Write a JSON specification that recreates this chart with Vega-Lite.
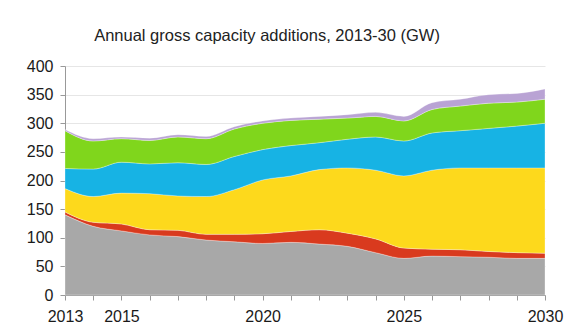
{
  "$schema": "https://vega.github.io/schema/vega-lite/v6.json",
  "width": 480,
  "height": 229,
  "autosize": {"type": "none"},
  "padding": {"left": 65, "top": 66, "right": 22, "bottom": 39},
  "background": "white",
  "title": {"text": "Annual gross capacity additions, 2013-30 (GW)", "font": "Liberation Sans", "fontSize": 16.5, "fontWeight": "normal", "color": "#222222", "offset": 14, "anchor": "middle", "dx": -38},
  "config": {"view": {"stroke": null}},
  "datasets": {
    "cap": [
      {"year": 2013, "series": "Fossil", "order": 1, "gw": 140}, {"year": 2013, "series": "Nuclear", "order": 2, "gw": 5}, {"year": 2013, "series": "Solar", "order": 3, "gw": 41}, {"year": 2013, "series": "Wind", "order": 4, "gw": 35}, {"year": 2013, "series": "Hydro", "order": 5, "gw": 66}, {"year": 2013, "series": "Other", "order": 6, "gw": 2},
      {"year": 2014, "series": "Fossil", "order": 1, "gw": 120}, {"year": 2014, "series": "Nuclear", "order": 2, "gw": 7}, {"year": 2014, "series": "Solar", "order": 3, "gw": 45}, {"year": 2014, "series": "Wind", "order": 4, "gw": 48}, {"year": 2014, "series": "Hydro", "order": 5, "gw": 49}, {"year": 2014, "series": "Other", "order": 6, "gw": 4},
      {"year": 2015, "series": "Fossil", "order": 1, "gw": 112}, {"year": 2015, "series": "Nuclear", "order": 2, "gw": 12}, {"year": 2015, "series": "Solar", "order": 3, "gw": 54}, {"year": 2015, "series": "Wind", "order": 4, "gw": 54}, {"year": 2015, "series": "Hydro", "order": 5, "gw": 41}, {"year": 2015, "series": "Other", "order": 6, "gw": 3},
      {"year": 2016, "series": "Fossil", "order": 1, "gw": 105}, {"year": 2016, "series": "Nuclear", "order": 2, "gw": 9}, {"year": 2016, "series": "Solar", "order": 3, "gw": 63}, {"year": 2016, "series": "Wind", "order": 4, "gw": 52}, {"year": 2016, "series": "Hydro", "order": 5, "gw": 41}, {"year": 2016, "series": "Other", "order": 6, "gw": 4},
      {"year": 2017, "series": "Fossil", "order": 1, "gw": 102}, {"year": 2017, "series": "Nuclear", "order": 2, "gw": 11}, {"year": 2017, "series": "Solar", "order": 3, "gw": 60}, {"year": 2017, "series": "Wind", "order": 4, "gw": 58}, {"year": 2017, "series": "Hydro", "order": 5, "gw": 45}, {"year": 2017, "series": "Other", "order": 6, "gw": 4},
      {"year": 2018, "series": "Fossil", "order": 1, "gw": 96}, {"year": 2018, "series": "Nuclear", "order": 2, "gw": 10}, {"year": 2018, "series": "Solar", "order": 3, "gw": 66}, {"year": 2018, "series": "Wind", "order": 4, "gw": 56}, {"year": 2018, "series": "Hydro", "order": 5, "gw": 45}, {"year": 2018, "series": "Other", "order": 6, "gw": 4},
      {"year": 2019, "series": "Fossil", "order": 1, "gw": 93}, {"year": 2019, "series": "Nuclear", "order": 2, "gw": 13}, {"year": 2019, "series": "Solar", "order": 3, "gw": 78}, {"year": 2019, "series": "Wind", "order": 4, "gw": 58}, {"year": 2019, "series": "Hydro", "order": 5, "gw": 48}, {"year": 2019, "series": "Other", "order": 6, "gw": 4},
      {"year": 2020, "series": "Fossil", "order": 1, "gw": 90}, {"year": 2020, "series": "Nuclear", "order": 2, "gw": 17}, {"year": 2020, "series": "Solar", "order": 3, "gw": 94}, {"year": 2020, "series": "Wind", "order": 4, "gw": 53}, {"year": 2020, "series": "Hydro", "order": 5, "gw": 46}, {"year": 2020, "series": "Other", "order": 6, "gw": 4},
      {"year": 2021, "series": "Fossil", "order": 1, "gw": 92}, {"year": 2021, "series": "Nuclear", "order": 2, "gw": 19}, {"year": 2021, "series": "Solar", "order": 3, "gw": 97}, {"year": 2021, "series": "Wind", "order": 4, "gw": 53}, {"year": 2021, "series": "Hydro", "order": 5, "gw": 44}, {"year": 2021, "series": "Other", "order": 6, "gw": 4},
      {"year": 2022, "series": "Fossil", "order": 1, "gw": 89}, {"year": 2022, "series": "Nuclear", "order": 2, "gw": 25}, {"year": 2022, "series": "Solar", "order": 3, "gw": 105}, {"year": 2022, "series": "Wind", "order": 4, "gw": 47}, {"year": 2022, "series": "Hydro", "order": 5, "gw": 41}, {"year": 2022, "series": "Other", "order": 6, "gw": 5},
      {"year": 2023, "series": "Fossil", "order": 1, "gw": 85}, {"year": 2023, "series": "Nuclear", "order": 2, "gw": 23}, {"year": 2023, "series": "Solar", "order": 3, "gw": 114}, {"year": 2023, "series": "Wind", "order": 4, "gw": 50}, {"year": 2023, "series": "Hydro", "order": 5, "gw": 37}, {"year": 2023, "series": "Other", "order": 6, "gw": 6},
      {"year": 2024, "series": "Fossil", "order": 1, "gw": 74}, {"year": 2024, "series": "Nuclear", "order": 2, "gw": 24}, {"year": 2024, "series": "Solar", "order": 3, "gw": 120}, {"year": 2024, "series": "Wind", "order": 4, "gw": 58}, {"year": 2024, "series": "Hydro", "order": 5, "gw": 36}, {"year": 2024, "series": "Other", "order": 6, "gw": 7},
      {"year": 2025, "series": "Fossil", "order": 1, "gw": 64}, {"year": 2025, "series": "Nuclear", "order": 2, "gw": 18}, {"year": 2025, "series": "Solar", "order": 3, "gw": 126}, {"year": 2025, "series": "Wind", "order": 4, "gw": 61}, {"year": 2025, "series": "Hydro", "order": 5, "gw": 35}, {"year": 2025, "series": "Other", "order": 6, "gw": 8},
      {"year": 2026, "series": "Fossil", "order": 1, "gw": 68}, {"year": 2026, "series": "Nuclear", "order": 2, "gw": 12}, {"year": 2026, "series": "Solar", "order": 3, "gw": 138}, {"year": 2026, "series": "Wind", "order": 4, "gw": 65}, {"year": 2026, "series": "Hydro", "order": 5, "gw": 41}, {"year": 2026, "series": "Other", "order": 6, "gw": 12},
      {"year": 2027, "series": "Fossil", "order": 1, "gw": 67}, {"year": 2027, "series": "Nuclear", "order": 2, "gw": 12}, {"year": 2027, "series": "Solar", "order": 3, "gw": 143}, {"year": 2027, "series": "Wind", "order": 4, "gw": 65}, {"year": 2027, "series": "Hydro", "order": 5, "gw": 43}, {"year": 2027, "series": "Other", "order": 6, "gw": 12},
      {"year": 2028, "series": "Fossil", "order": 1, "gw": 66}, {"year": 2028, "series": "Nuclear", "order": 2, "gw": 10}, {"year": 2028, "series": "Solar", "order": 3, "gw": 146}, {"year": 2028, "series": "Wind", "order": 4, "gw": 69}, {"year": 2028, "series": "Hydro", "order": 5, "gw": 44}, {"year": 2028, "series": "Other", "order": 6, "gw": 15},
      {"year": 2029, "series": "Fossil", "order": 1, "gw": 64}, {"year": 2029, "series": "Nuclear", "order": 2, "gw": 10}, {"year": 2029, "series": "Solar", "order": 3, "gw": 148}, {"year": 2029, "series": "Wind", "order": 4, "gw": 73}, {"year": 2029, "series": "Hydro", "order": 5, "gw": 42}, {"year": 2029, "series": "Other", "order": 6, "gw": 15},
      {"year": 2030, "series": "Fossil", "order": 1, "gw": 64}, {"year": 2030, "series": "Nuclear", "order": 2, "gw": 9}, {"year": 2030, "series": "Solar", "order": 3, "gw": 149}, {"year": 2030, "series": "Wind", "order": 4, "gw": 78}, {"year": 2030, "series": "Hydro", "order": 5, "gw": 42}, {"year": 2030, "series": "Other", "order": 6, "gw": 18}
    ]
  },
  "data": {"name": "cap"},
  "mark": {"type": "area", "interpolate": "monotone", "stroke": "#ffffff", "strokeWidth": 0.6, "strokeOpacity": 0.5},
  "encoding": {
    "x": {
      "field": "year", "type": "quantitative",
      "scale": {"domain": [2013, 2030], "nice": false, "zero": false},
      "axis": {
        "title": null, "values": [2013,2014,2015,2016,2017,2018,2019,2020,2021,2022,2023,2024,2025,2026,2027,2028,2029,2030],
        "format": "d",
        "labelExpr": "indexof([2013,2015,2020,2025,2030], datum.value) >= 0 ? datum.label : ''",
        "grid": false, "domainColor": "#999999", "tickColor": "#999999", "tickSize": 5,
        "labelFont": "Liberation Sans", "labelFontSize": 16, "labelColor": "#1a1a1a", "labelPadding": 8, "labelOverlap": false, "labelFlush": false
      }
    },
    "y": {
      "field": "gw", "type": "quantitative", "stack": "zero",
      "scale": {"domain": [0, 400], "nice": false},
      "axis": {
        "title": null, "values": [0,50,100,150,200,250,300,350,400],
        "grid": true, "gridColor": "#e6e6e6", "domainColor": "#999999", "tickColor": "#999999", "tickSize": 5,
        "labelFont": "Liberation Sans", "labelFontSize": 16, "labelColor": "#1a1a1a", "labelPadding": 7, "labelFlush": false
      }
    },
    "color": {
      "field": "series", "type": "nominal", "legend": null,
      "scale": {"domain": ["Fossil", "Nuclear", "Solar", "Wind", "Hydro", "Other"], "range": ["#a8a8a8", "#d93a1e", "#fdd91c", "#17b3e4", "#80d61c", "#b9a3d4"]}
    },
    "order": {"field": "order", "type": "quantitative"}
  }
}
